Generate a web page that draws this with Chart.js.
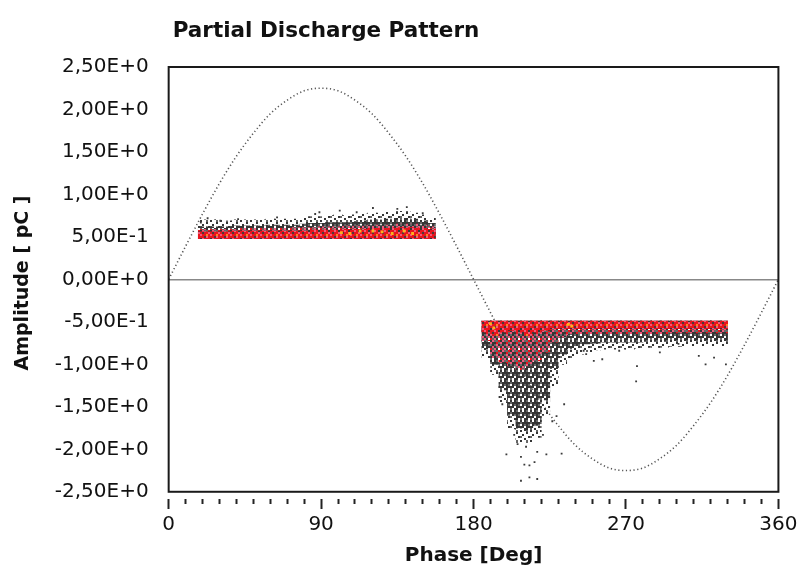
<!DOCTYPE html>
<html><head><meta charset="utf-8">
<script src="https://cdn.jsdelivr.net/npm/chart.js@4.4.0/dist/chart.umd.min.js"></script>
<style>html,body{margin:0;padding:0;background:#fff}#wrap{width:801px;height:569px}</style>
</head><body><div id="wrap"><canvas id="c" width="801" height="569"></canvas></div>
<script>
// ---------- texts ----------
const titleText = 'Partial Discharge Pattern';
const xTitle = 'Phase [Deg]';
const yTitle = 'Amplitude [ pC ]';
const xTickLabels = ['0', '90', '180', '270', '360'];
const yTickValues = [2.5, 2.0, 1.5, 1.0, 0.5, 0, -0.5, -1.0, -1.5, -2.0, -2.5];

// ---------- reference sine (phase in deg, amplitude in pC) ----------
const sinePhase = [0,10,20,30,40,50,60,70,80,90,100,110,120,130,140,150,160,170,180,190,200,210,220,230,240,250,260,270,280,290,300,310,320,330,340,350,360];
const sineAmp = [0,0.39,0.77,1.13,1.45,1.72,1.95,2.11,2.22,2.25,2.22,2.11,1.95,1.72,1.45,1.13,0.77,0.39,0,-0.39,-0.77,-1.13,-1.45,-1.72,-1.95,-2.11,-2.22,-2.25,-2.22,-2.11,-1.95,-1.72,-1.45,-1.13,-0.77,-0.39,0];

// ---------- positive half-cycle cluster (5 deg bins) ----------
const posPhase = [20,25,30,35,40,45,50,55,60,65,70,75,80,85,90,95,100,105,110,115,120,125,130,135,140,145,150,155];
const posLow = [0.48,0.48,0.48,0.48,0.48,0.48,0.48,0.48,0.48,0.48,0.48,0.48,0.48,0.48,0.48,0.48,0.48,0.48,0.48,0.48,0.48,0.48,0.48,0.48,0.48,0.48,0.48,0.48];
const posSparseHigh = [0.70,0.70,0.70,0.69,0.70,0.70,0.70,0.70,0.71,0.71,0.71,0.71,0.72,0.74,0.74,0.75,0.76,0.75,0.76,0.77,0.78,0.78,0.79,0.80,0.80,0.78,0.76,0.72];
const posGrayHigh = [0.62,0.62,0.62,0.62,0.63,0.63,0.63,0.63,0.64,0.64,0.64,0.64,0.65,0.66,0.66,0.67,0.67,0.67,0.68,0.69,0.70,0.70,0.71,0.72,0.72,0.71,0.69,0.66];
const posPinkHigh = [0.59,0.59,0.59,0.59,0.59,0.60,0.60,0.60,0.60,0.60,0.60,0.61,0.61,0.61,0.62,0.62,0.62,0.63,0.63,0.63,0.64,0.64,0.64,0.65,0.65,0.65,0.64,0.62];
const posRedHigh = [0.56,0.56,0.56,0.56,0.57,0.57,0.57,0.57,0.57,0.57,0.57,0.57,0.57,0.58,0.58,0.58,0.58,0.59,0.59,0.59,0.60,0.60,0.60,0.61,0.61,0.61,0.60,0.59];

// ---------- negative half-cycle cluster (5 deg bins) ----------
const negPhase = [187.5,192.5,197.5,202.5,207.5,212.5,217.5,222.5,227.5,232.5,237.5,242.5,247.5,252.5,257.5,262.5,267.5,272.5,277.5,282.5,287.5,292.5,297.5,302.5,307.5,312.5,317.5,322.5,327.5];
const negHigh = [-0.49,-0.49,-0.49,-0.49,-0.49,-0.49,-0.49,-0.49,-0.49,-0.49,-0.49,-0.49,-0.49,-0.49,-0.49,-0.49,-0.49,-0.49,-0.49,-0.49,-0.49,-0.49,-0.49,-0.49,-0.49,-0.49,-0.49,-0.49,-0.49];
const negRedLow = [-0.62,-0.66,-0.62,-0.60,-0.62,-0.66,-0.62,-0.60,-0.58,-0.58,-0.58,-0.58,-0.58,-0.58,-0.58,-0.58,-0.58,-0.58,-0.58,-0.58,-0.58,-0.58,-0.58,-0.58,-0.58,-0.58,-0.58,-0.58,-0.58];
const negPinkLow = [-0.72,-0.92,-0.98,-1.02,-1.06,-1.02,-0.96,-0.86,-0.74,-0.68,-0.65,-0.64,-0.64,-0.64,-0.64,-0.64,-0.64,-0.64,-0.64,-0.64,-0.64,-0.64,-0.63,-0.63,-0.63,-0.63,-0.63,-0.63,-0.63];
const negGrayLow = [-0.82,-1.00,-1.30,-1.60,-1.75,-1.78,-1.72,-1.42,-1.05,-0.88,-0.82,-0.78,-0.76,-0.75,-0.74,-0.74,-0.74,-0.74,-0.74,-0.73,-0.73,-0.73,-0.72,-0.72,-0.72,-0.72,-0.72,-0.72,-0.72];
const negSparseLow = [-0.92,-1.12,-1.45,-1.76,-1.92,-1.92,-1.86,-1.60,-1.25,-1.00,-0.92,-0.88,-0.85,-0.83,-0.82,-0.82,-0.82,-0.82,-0.81,-0.80,-0.80,-0.80,-0.79,-0.79,-0.78,-0.78,-0.78,-0.78,-0.78];

// ---------- isolated discharges ----------
const outlierPhase = [19,23,30.5,41,64,86.5,89,101,111,120.6,135,140.6,150,
  199.4,208,210,213,216,217.6,211,206,208,213,217.6,223,232,204,221,197,233.5,229,226.5,
  246.5,251,266,276.5,301,313,317,329,276,245,256,290,322];
const outlierAmp = [0.67,0.72,0.69,0.71,0.73,0.77,0.79,0.81,0.79,0.84,0.83,0.85,0.78,
  -2.06,-2.09,-2.18,-2.19,-2.15,-2.03,-1.97,-1.94,-2.37,-2.33,-2.35,-2.06,-2.05,-1.83,-1.83,-1.47,-1.47,-1.61,-1.67,
  -0.88,-0.96,-0.84,-1.02,-0.76,-0.90,-1.00,-1.00,-1.20,-0.84,-0.94,-0.86,-0.92];

// ---------- hot spots (highest pulse density) ----------
const hotPhase = [102,107,113,120.6,126,132,139,144,190,192,236,238];
const hotAmp = [0.55,0.54,0.57,0.57,0.56,0.54,0.57,0.54,-0.52,-0.57,-0.53,-0.55];

// ---------- helpers ----------
function makePattern(rows, palette, cell) {
  const c = document.createElement('canvas');
  c.width = rows[0].length * cell; c.height = rows.length * cell;
  const g = c.getContext('2d');
  rows.forEach((row, i) => [...row].forEach((ch, j) => {
    if (palette[ch]) { g.fillStyle = palette[ch]; g.fillRect(j * cell, i * cell, cell, cell); }
  }));
  return g.createPattern(c, 'repeat');
}
const pal = {D:'#353535', d:'#666666', R:'#e8141c', P:'#f0587c', O:'#f58a1e', K:'#4a3a3a'};
const patSparse = makePattern(['D..d.', '...D.', '.D...', 'd...D', '..D..'], pal, 2);
const patGray = makePattern(['D.Dd.', 'dDD.D', '.DdDd', 'DD.DD', 'd.DD.'], pal, 2);
const patPink = makePattern(['DPd.R', 'P.DRd', 'dD.PD', '.PDdP', 'RdPD.'], pal, 2);
const patRed = makePattern(['RRPRD', 'RKRRP', 'PRROR', 'RRKPR', 'DPRRR'], pal, 2);

function bars(px, lo, hi) { return px.map((p, i) => ({x: p, y: [lo[i], hi[i]]})); }
function pts(px, py) { return px.map((p, i) => ({x: p, y: py[i]})); }

const barBase = {type: 'bar', grouped: false, barPercentage: 1, categoryPercentage: 1, borderWidth: 0};

const datasets = [
  {type: 'scatter', data: pts(hotPhase, hotAmp), pointStyle: 'rect', pointRadius: 2, backgroundColor: '#ffb020', borderWidth: 0, order: 0},
  {type: 'scatter', data: pts(outlierPhase, outlierAmp), pointStyle: 'rect', pointRadius: 1.3, backgroundColor: '#3a3a3a', borderWidth: 0, order: 0},
  Object.assign({}, barBase, {data: bars(posPhase, posLow, posRedHigh).concat(bars(negPhase, negRedLow, negHigh)), backgroundColor: patRed, order: 1}),
  Object.assign({}, barBase, {data: bars(posPhase, posLow, posPinkHigh).concat(bars(negPhase, negPinkLow, negHigh)), backgroundColor: patPink, order: 2}),
  Object.assign({}, barBase, {data: bars(posPhase, posLow, posGrayHigh).concat(bars(negPhase, negGrayLow, negHigh)), backgroundColor: patGray, order: 3}),
  Object.assign({}, barBase, {data: bars(posPhase, posLow, posSparseHigh).concat(bars(negPhase, negSparseLow, negHigh)), backgroundColor: patSparse, order: 4}),
  {type: 'line', data: pts(sinePhase, sineAmp), borderColor: '#555', borderWidth: 1.6, borderDash: [1.2, 2.6], pointRadius: 0, cubicInterpolationMode: 'monotone', fill: false, order: 6}
];

const boxPlugin = {
  id: 'box',
  afterDraw(chart) {
    const {ctx, scales: {x, y}} = chart;
    const l = x.getPixelForValue(0), r = x.getPixelForValue(360);
    const t = y.getPixelForValue(2.5), b = y.getPixelForValue(-2.5);
    ctx.save();
    ctx.strokeStyle = '#1a1a1a'; ctx.lineWidth = 2;
    ctx.strokeRect(l, t, r - l, b - t);
    ctx.fillStyle = '#111';
    ctx.font = 'bold 21.5px "DejaVu Sans"';
    ctx.textBaseline = 'alphabetic';
    ctx.fillText(titleText, l + 4, 37);
    ctx.restore();
  }
};

new Chart(document.getElementById('c'), {
  type: 'scatter',
  data: {datasets},
  plugins: [boxPlugin],
  options: {
    responsive: false, animation: false, events: [],
    layout: {padding: {top: 67, right: 21, bottom: 1, left: 4}},
    plugins: {legend: {display: false}, tooltip: {enabled: false}, title: {display: false}},
    scales: {
      x: {
        type: 'linear', min: 0, max: 360, offset: false,
        grid: {offset: false, drawOnChartArea: false, drawTicks: true, tickLength: 10, tickWidth: 2, tickColor: '#222',
               tickBorderDash: (ctx) => (ctx.tick && ctx.tick.value % 90 === 0) ? [] : [5, 30]},
        border: {display: false},
        ticks: {stepSize: 10, autoSkip: false, maxRotation: 0, padding: 3.5, color: '#111',
                font: {family: 'DejaVu Sans', size: 20},
                callback: (v) => (v % 90 === 0) ? xTickLabels[v / 90] : ''},
        title: {display: true, text: xTitle, color: '#111', font: {family: 'DejaVu Sans', size: 20, weight: 'bold'}, padding: {top: 4, bottom: 0}}
      },
      y: {
        type: 'linear', min: -2.585, max: 2.5,
        afterBuildTicks: (scale) => { scale.ticks = yTickValues.map(v => ({value: v})); },
        grid: {drawTicks: false, drawOnChartArea: true, lineWidth: 1.5,
               color: (ctx) => (ctx.tick && ctx.tick.value === 0) ? '#888' : 'rgba(0,0,0,0)'},
        border: {display: false},
        ticks: {padding: 20, color: '#111', font: {family: 'DejaVu Sans', size: 20},
                callback: (v) => Number(v).toExponential(2).replace('.', ',').replace('e', 'E')},
        title: {display: true, text: yTitle, color: '#111', font: {family: 'DejaVu Sans', size: 19, weight: 'bold'}, padding: {top: 8, bottom: 0}}
      }
    }
  }
});
</script>
</body></html>
